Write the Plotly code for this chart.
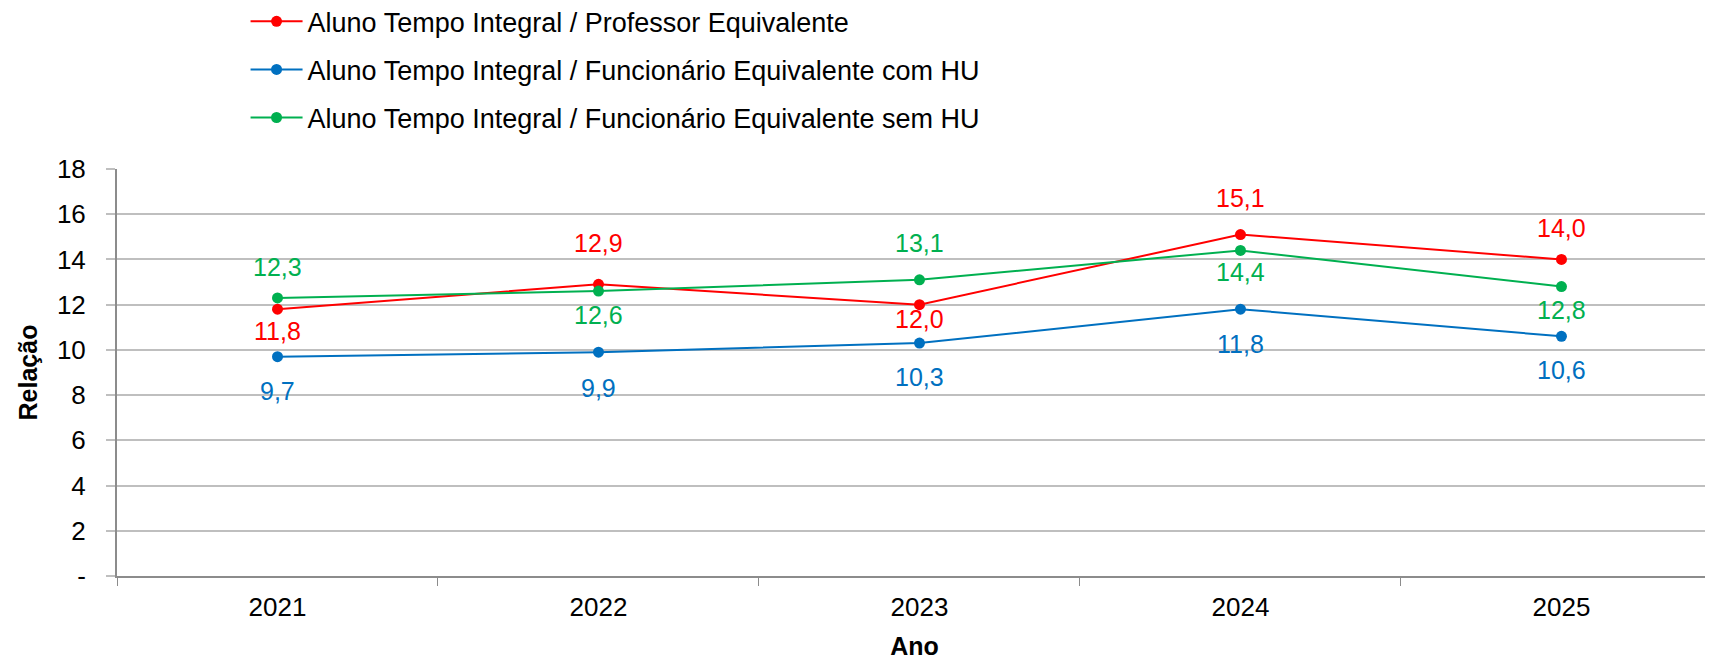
import plotly.graph_objects as go

anos = ["2021", "2022", "2023", "2024", "2025"]
prof = [11.8, 12.9, 12.0, 15.1, 14.0]
func_com_hu = [9.7, 9.9, 10.3, 11.8, 10.6]
func_sem_hu = [12.3, 12.6, 13.1, 14.4, 12.8]

nomes = [
    "Aluno Tempo Integral / Professor Equivalente",
    "Aluno Tempo Integral / Funcionário Equivalente com HU",
    "Aluno Tempo Integral / Funcionário Equivalente sem HU",
]
cores = ["#FF0000", "#0070C0", "#00B050"]
# vertical shift (px) of each data label centre relative to its point (positive = up)
desloc_rotulos = [
    [-22, 41, -14, 37, 31],
    [-34, -36, -34, -35, -34],
    [31, -24, 37, -22, -23],
]
y_ticks = [0, 2, 4, 6, 8, 10, 12, 14, 16, 18]
y_ticktext = ["-", "2", "4", "6", "8", "10", "12", "14", "16", "18"]

FONT = "Arial, Liberation Sans, sans-serif"

fig = go.Figure()
series = [prof, func_com_hu, func_sem_hu]
for i, serie in enumerate(series):
    fig.add_trace(go.Scatter(
        x=anos, y=serie, name=nomes[i], mode="lines+markers",
        line=dict(color=cores[i], width=2),
        marker=dict(color=cores[i], size=11),
        legendgroup=str(i), cliponaxis=False,
    ))
    for j, (v, dy) in enumerate(zip(serie, desloc_rotulos[i])):
        fig.add_annotation(
            x=j, y=v, xref="x", yref="y", text=f"{v:.1f}".replace(".", ","),
            showarrow=False, xanchor="center", yanchor="middle", yshift=dy,
            font=dict(color=cores[i], size=25, family=FONT),
        )

# page body has an 8px margin, so the figure is sized/offset to compensate
fig.update_layout(
    width=1705, height=653,
    margin=dict(l=109, r=1, t=161, b=85, autoexpand=False),
    paper_bgcolor="white", plot_bgcolor="white",
    font=dict(family=FONT, size=26, color="black"),
    showlegend=True,
    legend=dict(
        x=0.0806, xanchor="left", y=1.422, yanchor="top",
        font=dict(size=27, color="black"),
        tracegroupgap=10, traceorder="grouped", itemwidth=52,
        bgcolor="rgba(0,0,0,0)",
    ),
    xaxis=dict(
        type="category", range=[-0.5, 4.469],
        showline=True, linecolor="#8C8C8C", linewidth=2,
        ticks="outside", tickson="boundaries", ticklen=8, tickcolor="#8C8C8C", tickwidth=1,
        showgrid=False,
        ticklabelstandoff=7,
        tickfont=dict(size=26),
        title=dict(text="<b>Ano</b>", font=dict(size=25), standoff=16),
    ),
    yaxis=dict(
        range=[0, 18], tickvals=y_ticks, ticktext=y_ticktext,
        showline=True, linecolor="#8C8C8C", linewidth=2,
        ticks="outside", ticklen=9, tickcolor="#BFBFBF", tickwidth=2,
        showgrid=True, gridcolor="#BFBFBF", gridwidth=2,
        zeroline=False,
        ticklabelstandoff=15,
        tickfont=dict(size=26),
        title=dict(text="<b>Relação</b>", font=dict(size=25), standoff=12),
    ),
)

fig.write_html("out.html")
